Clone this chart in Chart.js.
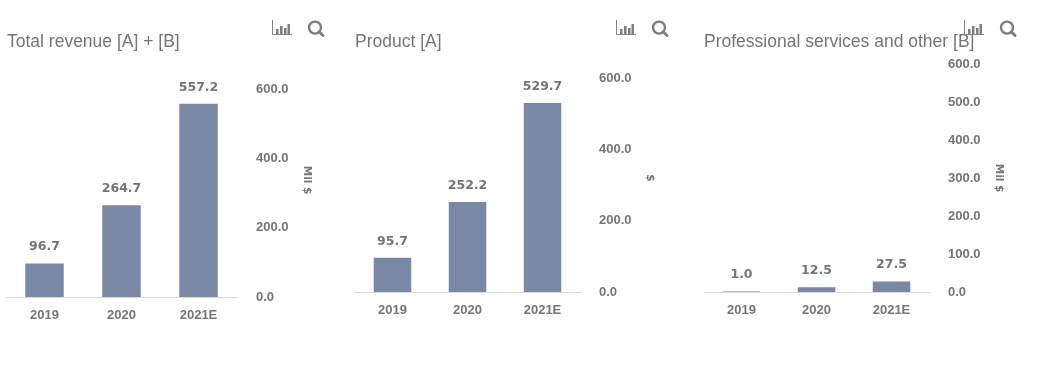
<!DOCTYPE html>
<html>
<head>
<meta charset="utf-8">
<script src="https://cdn.jsdelivr.net/npm/chart.js@4/dist/chart.umd.min.js"></script>
<style>
    html, body { margin: 0; padding: 0; background: #fff; overflow: hidden; }
    #page { position: relative; width: 1042px; height: 366px; }
    .painel { position: absolute; top: 0; height: 366px; width: 320px; }
    .titulo { position: absolute; top: 31px; font: 17.5px/21px 'Liberation Sans'; color: #757575; white-space: nowrap; }
    .icone { position: absolute; top: 18px; width: 20px; height: 20px; }
</style>
</head>
<body>
<div id="page">
    <div class="painel" style="left:6px"><canvas id="grafico-total"></canvas></div>
    <div class="painel" style="left:355px"><canvas id="grafico-produto"></canvas></div>
    <div class="painel" style="left:704px"><canvas id="grafico-servicos"></canvas></div>

    <div class="titulo" style="left:7px">Total revenue [A] + [B]</div>
    <div class="titulo" style="left:355px">Product [A]</div>
    <div class="titulo" style="left:704px">Professional services and other [B]</div>

    <svg class="icone" style="left:272px" viewBox="0 0 20 20"><use href="#barras"/></svg>
    <svg class="icone" style="left:306px" viewBox="0 0 20 20"><use href="#lupa"/></svg>
    <svg class="icone" style="left:616px" viewBox="0 0 20 20"><use href="#barras"/></svg>
    <svg class="icone" style="left:650px" viewBox="0 0 20 20"><use href="#lupa"/></svg>
    <svg class="icone" style="left:964px" viewBox="0 0 20 20"><use href="#barras"/></svg>
    <svg class="icone" style="left:998px" viewBox="0 0 20 20"><use href="#lupa"/></svg>

    <svg width="0" height="0" style="position:absolute">
        <symbol id="barras" viewBox="0 0 20 20">
            <path d="M0.5 2V16.5H20" fill="none" stroke="#858585" stroke-width="1"/>
            <path d="M4 11h2.5v5H4zM8 8h2.5v8H8zM12 10h2.5v6H12zM15.5 6h2.5v10h-2.5z" fill="#7d7d7d"/>
        </symbol>
        <symbol id="lupa" viewBox="0 0 20 20">
            <circle cx="9" cy="9.6" r="6" fill="none" stroke="#7d7d7d" stroke-width="2.4"/>
            <path d="M13.5 14L17 17.5" stroke="#7d7d7d" stroke-width="3" stroke-linecap="round"/>
        </symbol>
    </svg>
</div>

<script>
// Dados
const categorias = ['2019', '2020', '2021E'];
const valoresTotal = [96.7, 264.7, 557.2];
const valoresProduto = [95.7, 252.2, 529.7];
const valoresServicos = [1.0, 12.5, 27.5];
const passoTotal = 200;
const passoProduto = 200;
const passoServicos = 100;

const corBarra = '#7888a5';
const corTexto = '#757575';

// Rotulos de valor acima de cada barra
const rotulosBarras = {
    id: 'rotulosBarras',
    afterDatasetsDraw(chart) {
        const ctx = chart.ctx;
        const dataset = chart.data.datasets[0];
        ctx.save();
        ctx.font = "bold 12.5px 'DejaVu Sans'";
        ctx.fillStyle = corTexto;
        ctx.textAlign = 'center';
        ctx.textBaseline = 'middle';
        chart.getDatasetMeta(0).data.forEach((barra, i) => {
            ctx.fillText(dataset.data[i].toFixed(1), barra.x, barra.y - 16.5);
        });
        ctx.restore();
    }
};

// Unidade do eixo: fica acima do meio do eixo, por isso nao usa o title da escala
const unidadeEixo = {
    id: 'unidadeEixo',
    afterDraw(chart, args, opcoes) {
        const ctx = chart.ctx;
        ctx.save();
        ctx.font = "bold 10.5px 'DejaVu Sans'";
        ctx.fillStyle = corTexto;
        ctx.textAlign = 'center';
        ctx.textBaseline = 'middle';
        ctx.translate(chart.chartArea.right + 70, opcoes.y);
        ctx.rotate(Math.PI / 2);
        ctx.fillText(opcoes.texto, 0, 0);
        ctx.restore();
    }
};

function criarGrafico(id, valores, passo, unidade, topo, base, larguraArea, yUnidade) {
    const canvas = document.getElementById(id);
    const alturaPainel = 366;
    return new Chart(canvas.getContext('2d'), {
        type: 'bar',
        data: {
            labels: categorias,
            datasets: [{
                data: valores,
                backgroundColor: corBarra,
                barPercentage: 0.5,
                categoryPercentage: 1
            }]
        },
        plugins: [rotulosBarras, unidadeEixo],
        options: {
            responsive: true,
            maintainAspectRatio: false,
            animation: false,
            layout: { padding: { top: topo, bottom: alturaPainel - base - 33 } },
            plugins: {
                legend: { display: false },
                tooltip: { enabled: false },
                unidadeEixo: { texto: unidade, y: yUnidade }
            },
            scales: {
                x: {
                    grid: { display: false, drawTicks: false },
                    border: { color: '#d9d9d9', width: 1 },
                    ticks: {
                        color: corTexto,
                        padding: 11,
                        maxRotation: 0,
                        font: { family: "'Liberation Sans'", size: 13, weight: 'bold' }
                    },
                    afterFit(escala) { escala.height = 33; }
                },
                y: {
                    position: 'right',
                    min: 0,
                    max: 600,
                    grid: { display: false, drawTicks: false },
                    border: { display: false },
                    ticks: {
                        stepSize: passo,
                        color: corTexto,
                        padding: 19,
                        font: { family: "'Liberation Sans'", size: 13, weight: 'bold' },
                        callback: valor => valor.toFixed(1)
                    },
                    afterFit(escala) { escala.width = canvas.parentNode.offsetWidth - larguraArea; }
                }
            }
        }
    });
}

criarGrafico('grafico-total', valoresTotal, passoTotal, 'Mil $', 89, 297, 231, 180);
criarGrafico('grafico-produto', valoresProduto, passoProduto, '$', 78, 292, 225, 178);
criarGrafico('grafico-servicos', valoresServicos, passoServicos, 'Mil $', 64, 292, 225, 178);
</script>
</body>
</html>
